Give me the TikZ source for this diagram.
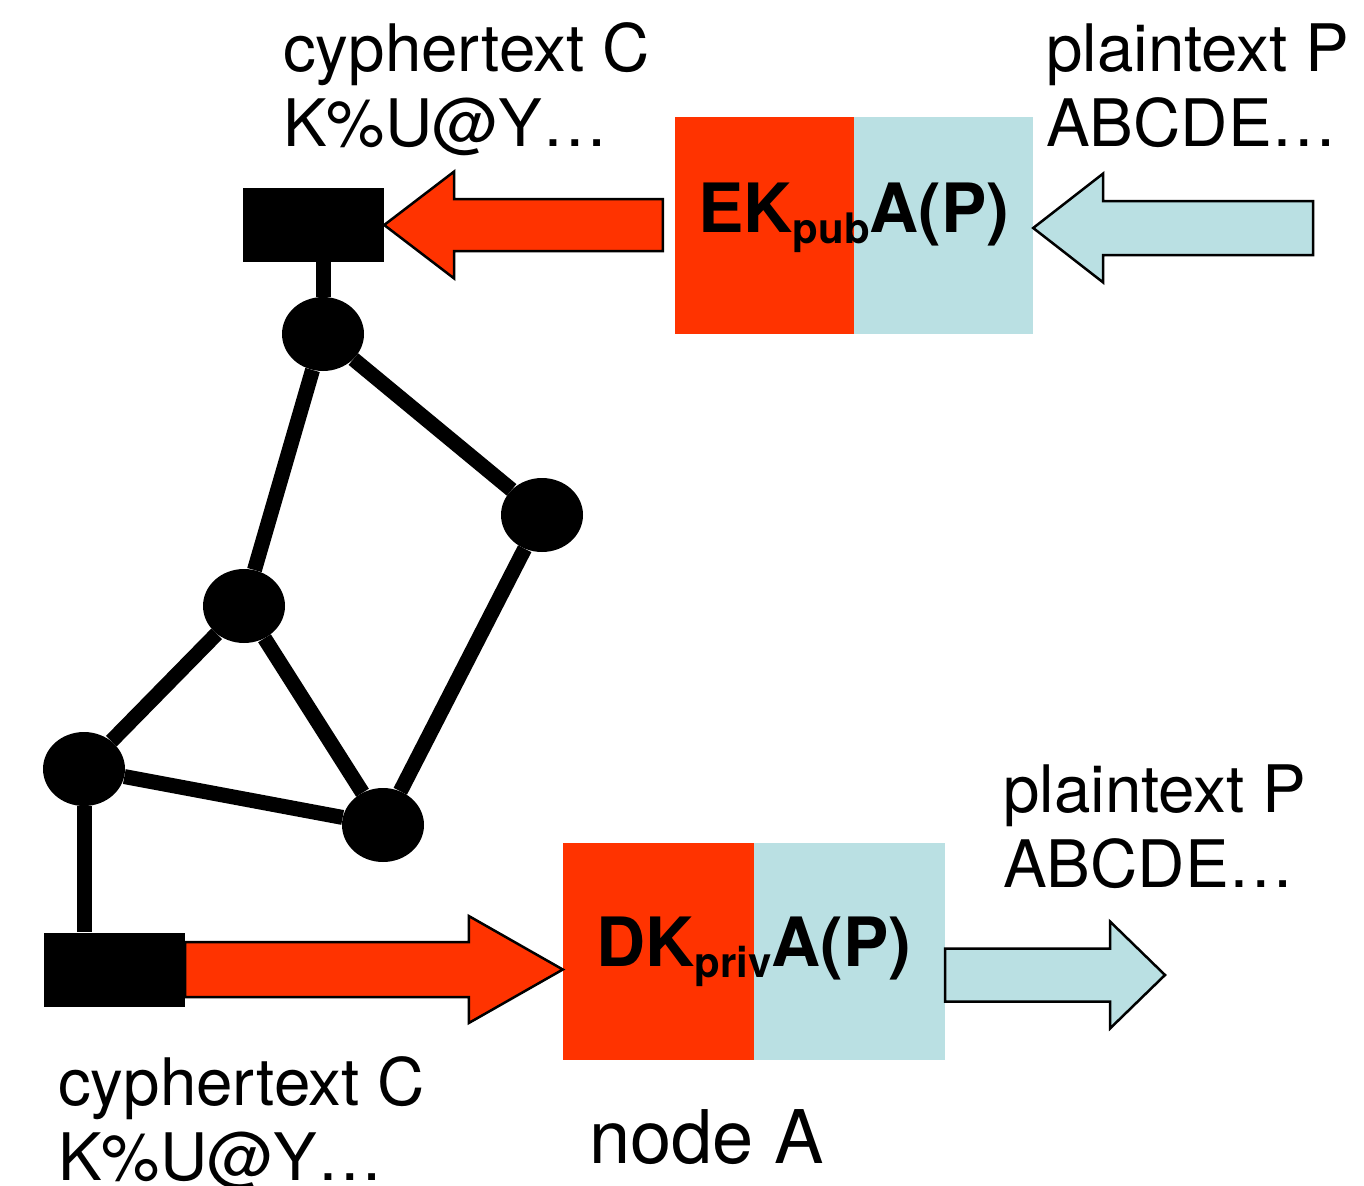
\documentclass[tikz,border=0pt]{standalone}
\usepackage{fontspec}
\setmainfont{TeX Gyre Heros}
\usetikzlibrary{calc,shapes.geometric}
\definecolor{encred}{RGB}{255,51,0}
\definecolor{paleblue}{RGB}{186,224,227}
% #1 style, #2 tail, #3 tip, #4 shaft half height, #5 head half height, #6 signed offset tip->head back
\newcommand\fatarrow[6]{%
  \draw[#1] let \p1=#2, \p2=#3 in
    (\x1,{\y2+#4}) -- ({\x2+(#6)},{\y2+#4}) -- ({\x2+(#6)},{\y2+#5}) -- (\x2,\y2)
    -- ({\x2+(#6)},{\y2-#5}) -- ({\x2+(#6)},{\y2-#4}) -- (\x1,{\y2-#4}) -- cycle;}
\begin{document}
\begin{tikzpicture}[x=1pt,y=-1pt,
  lbl/.style={anchor=base west, inner sep=0pt, align=left, font=\fontsize{65.5}{75}\selectfont},
  term/.style={fill=black, minimum width=141pt, minimum height=74pt, inner sep=0pt},
  vert/.style={ellipse, fill=black, minimum width=82pt, minimum height=74pt, inner sep=0pt},
  link/.style={line width=15pt, black},
  keybox/.style={minimum height=217pt, inner sep=0pt,
    font=\fontsize{68}{68}\selectfont\bfseries,
    path picture={\fill[encred] (path picture bounding box.north west) rectangle (path picture bounding box.south);
                  \fill[paleblue] (path picture bounding box.north) rectangle (path picture bounding box.south east);}},
  redarrow/.style={fill=encred, draw=black, line width=2.5pt, line join=miter},
  bluearrow/.style={fill=paleblue, draw=black, line width=2.5pt, line join=miter}
]
\useasboundingbox (0,0) rectangle (1364,1185);
\fill[white] (0,0) rectangle (1364,1185);

% terminals
\node[term] (topterm) at (313.5,225) {};
\node[term] (botterm) at (114.5,969.5) {};

% network vertices
\node[vert] (n1) at (323,334) {};
\node[vert] (n2) at (542,515) {};
\node[vert] (n3) at (244,606) {};
\node[vert] (n4) at (84,769) {};
\node[vert] (n5) at (383,825) {};

\draw[link] (topterm.south -| n1) -- (n1);
\draw[link] (n1) -- (n2);
\draw[link] (n1) -- (n3);
\draw[link] (n3) -- (n4);
\draw[link] (n3) -- (n5);
\draw[link] (n2) -- (n5);
\draw[link] (n4) -- (n5);
\draw[link] (n4) -- (botterm.north -| n4);

% key boxes
\node[keybox, minimum width=358pt, text height=40pt, text depth=27pt] (enc) at (854,225.5)
  {EK\raisebox{-11pt}{\fontsize{42}{42}\selectfont pub}A(P)};
\node[keybox, minimum width=382pt, text height=50pt, text depth=21pt] (dec) at (754,951.5)
  {DK\raisebox{-11pt}{\fontsize{42}{42}\selectfont priv}A(P)};

\coordinate (ptin) at (1313,228);
\coordinate (ptout) at (1165,975);

% arrows
\fatarrow{redarrow}{($(enc.west)+(-12,0)$)}{(topterm.east)}{26pt}{53.5pt}{70pt}
\fatarrow{bluearrow}{(ptin)}{(enc.east |- ptin)}{27pt}{54.5pt}{70pt}
\fatarrow{redarrow}{(botterm.east)}{(dec.west |- botterm.east)}{27.5pt}{53.5pt}{-94pt}
\fatarrow{bluearrow}{(dec.east |- ptout)}{(ptout)}{26.5pt}{53.5pt}{-55pt}

% labels (anchor = baseline of the last line)
\node[lbl] (ctop) at (283,147) {cyphertext C\\K\%U@Y…};
\node[lbl] (ptop) at (1046,147) {plaintext P\\ABCDE…};
\node[lbl] (pbot) at (1003,887) {plaintext P\\ABCDE…};
\node[lbl] (cbot) at (58,1180) {cyphertext C\\K\%U@Y…};
\node[anchor=base west, inner sep=0pt, font=\fontsize{74}{80}\selectfont] (nodeA) at (589,1163) {node A};
\end{tikzpicture}
\end{document}
